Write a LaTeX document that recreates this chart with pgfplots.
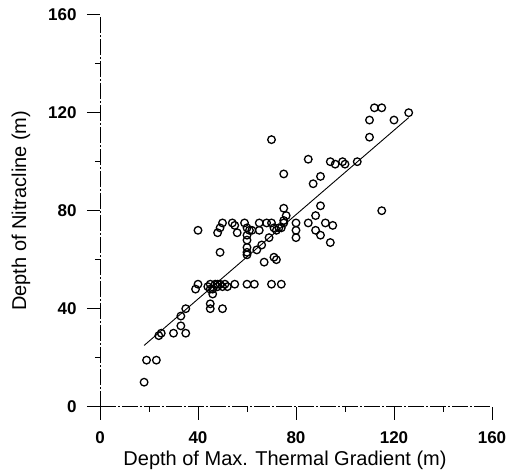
\documentclass[border=0pt]{standalone}
\usepackage{pgfplots}
\pgfplotsset{compat=1.18}
\usepackage{fontspec}
\setmainfont{Liberation Sans}
\begin{document}
\begin{tikzpicture}
\path[use as bounding box] (-100pt,-69.3pt) rectangle (414pt,406.7pt);
\begin{axis}[
  anchor=south west, at={(0pt,0pt)},
  scale only axis, width=392pt, height=392pt,
  xmin=0, xmax=160, ymin=0, ymax=160,
  axis lines=left,
  axis line style={-, line width=0.9pt, dash pattern=on 16pt off 2pt on 2pt off 2pt},
  xtick={0,40,80,120,160}, ytick={0,40,80,120,160},
  minor xtick={20,60,100,140}, minor ytick={20,60,100,140},
  tick align=outside,
  major tick length=13pt, minor tick length=5pt,
  tick style={black, line width=0.9pt},
  /pgf/number format/assume math mode=true,
  ticklabel style={font=\bfseries\fontsize{17}{17}\selectfont},
  xticklabel shift=8pt,
  yticklabel shift=7pt,
  xlabel={Depth of Max. Thermal Gradient (m)},
  ylabel={Depth of Nitracline (m)},
  label style={font=\fontsize{20}{24}\selectfont},
  xlabel shift=1pt,
  ylabel shift=11pt,
  xlabel style={xshift=-11pt},
  clip=false,
]
\addplot[only marks, mark=o, mark size=3.8pt, mark options={line width=1.3pt, black}] coordinates {
(18,10)
(19,19)(23,19)
(24,29)(25,30)(30,30)(35,30)
(33,33)(33,37)(35,40)
(39,48)(40,50)
(44,49)(45,50)(46,48)(47,50)(48,49)(49,50)(50,49)(51,50)(45,48)(48,50)
(46,46)(45,42)(45,40)(50,40)
(52,49)(55,50)(60,50)(63,50)(70,50)(74,50)
(67,59)(71,61)(72,60)
(49,63)
(40,72)(48,71)(49,73)(50,75)(54,75)(55,74)(56,71)
(59,75)(60,73)(60,70)(60,68)(60,65)(60,63)(60,62)
(61,72)(62,72)(64,64)(65,72)(65,75)(66,66)(68,75)(69,69)(70,75)(71,73)(72,72)(73,73)(74,73)(75,75)(75,76)
(75,81)(76,78)(75,95)(70,109)
(80,75)(80,72)(80,69)(85,75)(88,78)(88,72)(90,82)(90,70)(92,75)(95,74)(94,67)
(85,101)(87,91)(90,94)(94,100)(96,99)(99,100)(100,99)(105,100)
(110,110)(110,117)(112,122)(115,122)(120,117)(126,120)(115,80)
};
\addplot[black, line width=0.9pt] coordinates {(18,25) (126,118)};
\end{axis}
\end{tikzpicture}
\end{document}
